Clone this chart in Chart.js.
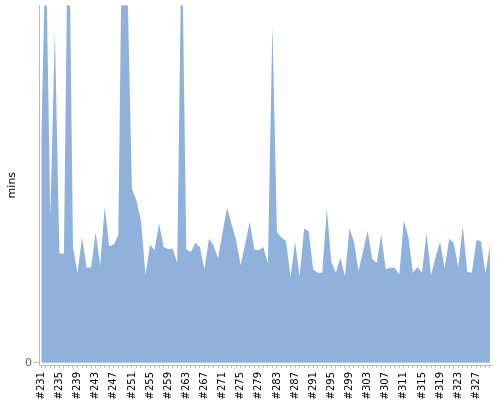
<!DOCTYPE html>
<html>
<head>
<meta charset="utf-8">
<title>mins per build</title>
<style>
html,body{margin:0;padding:0;background:#fff;}
#wrap{width:500px;height:400px;}
</style>
</head>
<body>
<div id="wrap"><canvas id="chart" width="500" height="400"></canvas></div>
<script src="https://cdn.jsdelivr.net/npm/chart.js"></script>
<script>
// builds #231 .. #330
const builds = [];
for(let n=231;n<=330;n++) builds.push('#'+n);

// minutes per build (top of axis = 100)
const mins = [
  62.1,118.7,40.7,92.8,30.6,30.6,140.1,32.3,25.1,35.1,
  26.7,26.7,36.5,27.3,43.5,32.6,33.1,35.7,142.9,106.7,
  48.7,45.4,39.8,24.5,33.1,31.5,39.0,32.4,31.8,32.0,
  27.9,123.4,31.8,31.0,33.6,32.3,26.1,34.7,32.9,29.2,
  36.5,43.4,38.7,34.3,27.3,33.4,39.4,31.7,31.5,32.4,
  27.8,94.7,36.6,35.0,34.1,24.0,33.8,24.2,37.5,36.9,
  26.1,25.2,25.2,43.1,28.2,25.3,29.4,24.2,37.7,33.8,
  25.7,31.2,36.9,29.2,27.9,35.9,26.2,26.7,26.5,24.8,
  39.8,35.2,25.2,26.8,25.2,36.3,24.5,29.6,33.8,26.4,
  34.7,33.5,26.7,38.2,25.4,25.2,34.3,34.1,25.0,32.9
];

const yTicks = [0];
const yMax = 100;
const labelEvery = 4;

const ctx = document.getElementById('chart').getContext('2d');
new Chart(ctx,{
  type:'line',
  data:{
    labels:builds,
    datasets:[{
      data:mins,
      fill:'origin',
      backgroundColor:'#8fb1db',
      borderWidth:0,
      pointRadius:0,
      tension:0
    }]
  },
  options:{
    responsive:false,
    animation:false,
    layout:{padding:{top:4,right:7,left:0,bottom:0}},
    plugins:{legend:{display:false},tooltip:{enabled:false}},
    scales:{
      x:{
        offset:true,
        border:{color:'#bbb'},
        grid:{drawOnChartArea:false,drawTicks:true,tickLength:3,color:'#bbb'},
        ticks:{
          autoSkip:false,minRotation:90,maxRotation:90,padding:4,
          color:'#000',font:{family:'DejaVu Sans',size:10,lineHeight:0.6},
          callback:(v,i)=> i%labelEvery===0 ? builds[i] : ''
        },
        afterFit:s=>{ s.height = 35; }
      },
      y:{
        min:-0.6,max:yMax,
        border:{color:'#bbb'},
        grid:{drawOnChartArea:false,drawTicks:true,tickLength:5,color:'#bbb'},
        afterBuildTicks:s=>{ s.ticks = yTicks.map(v=>({value:v})); },
        ticks:{color:'#666',padding:2,font:{family:'DejaVu Sans',size:11,lineHeight:0.6}},
        title:{display:true,text:'mins',color:'#000',padding:{top:6,bottom:0},font:{family:'DejaVu Sans',size:11}},
        afterFit:s=>{ s.width = 39; }
      }
    }
  }
});
</script>
</body>
</html>
